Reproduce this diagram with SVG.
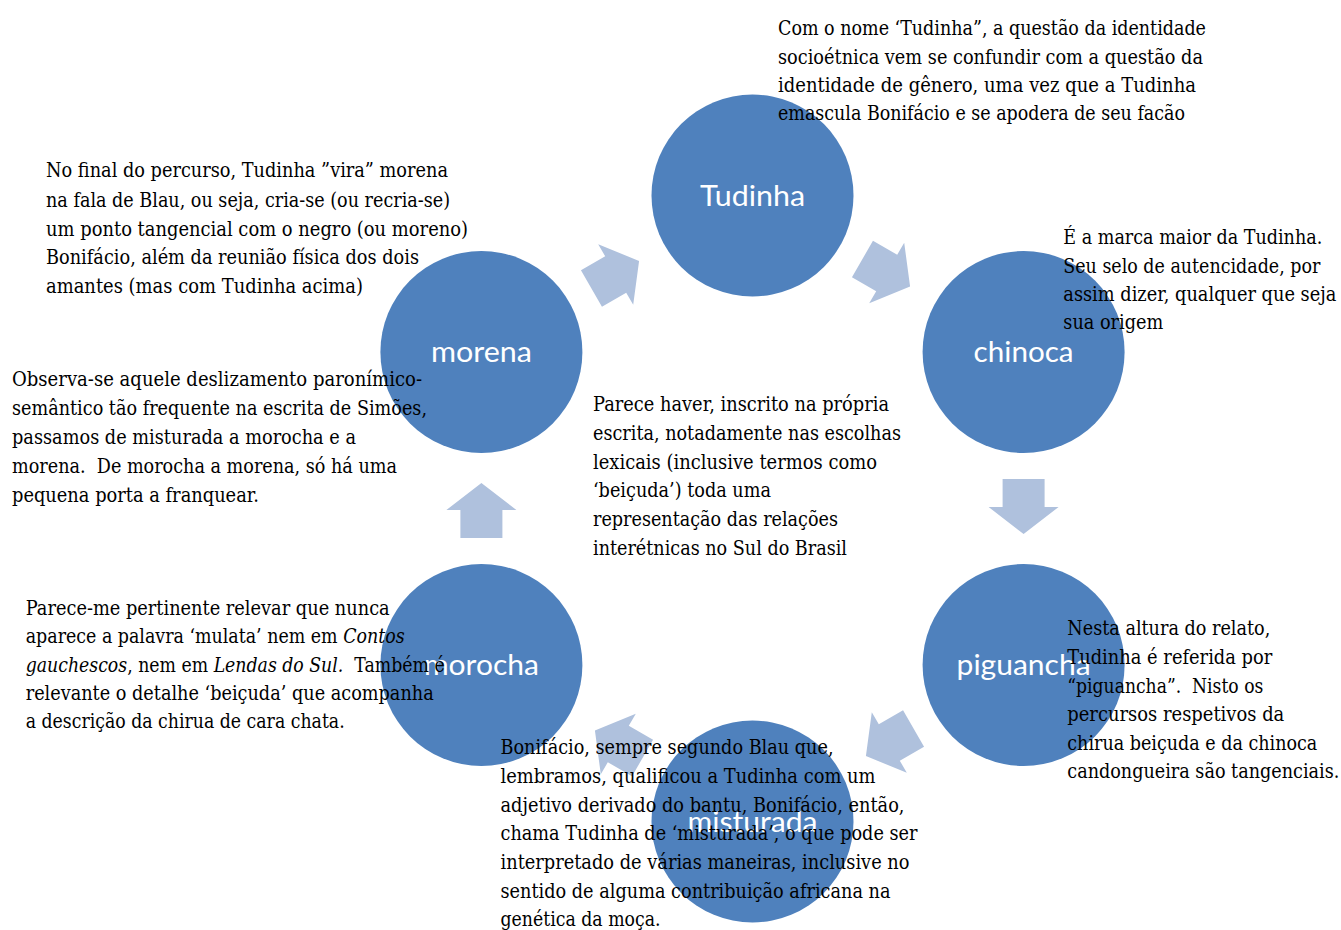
<svg xmlns="http://www.w3.org/2000/svg" width="1341" height="930" viewBox="0 0 1341 930">
  <style>
    .node { fill: #4f81bd; }
    .label { font-family: Lato, "Liberation Sans", sans-serif; font-size: 29px; fill: #ffffff; text-anchor: middle; }
    .arrow { fill: #afc1dd; }
    .note { font-family: "DejaVu Serif", "Liberation Serif", serif; font-size: 19.5px; fill: #000000; white-space: pre; }
    .it { font-style: italic; }
  </style>
  <defs>
    <!-- block arrow pointing along +x, origin at the midpoint between two circles -->
    <polygon id="blockArrow" points="-29.5,-21 -1.5,-21 -1.5,-35 25.5,0 -1.5,35 -1.5,21 -29.5,21"/>
  </defs>

  <rect width="1341" height="930" fill="#ffffff"/>

  <!-- cycle connectors -->
  <g id="connectors" class="arrow">
    <use href="#blockArrow" transform="translate(617,273.75) rotate(-30)"/>
    <use href="#blockArrow" transform="translate(888,273.75) rotate(30)"/>
    <use href="#blockArrow" transform="translate(1023.6,508.5) rotate(90)"/>
    <use href="#blockArrow" transform="translate(888,743.25) rotate(150)"/>
    <use href="#blockArrow" transform="translate(617,743.25) rotate(210)"/>
    <use href="#blockArrow" transform="translate(481.4,508.5) rotate(270)"/>
  </g>

  <!-- cycle nodes -->
  <g id="node-tudinha">
    <circle class="node" cx="752.5" cy="195.5" r="101"/>
    <text class="label" x="752.5" y="205.5" textLength="105" lengthAdjust="spacingAndGlyphs">Tudinha</text>
  </g>
  <g id="node-chinoca">
    <circle class="node" cx="1023.6" cy="352" r="101"/>
    <text class="label" x="1023.6" y="362" textLength="100" lengthAdjust="spacingAndGlyphs">chinoca</text>
  </g>
  <g id="node-piguancha">
    <circle class="node" cx="1023.6" cy="665" r="101"/>
    <text class="label" x="1023.6" y="675" textLength="134" lengthAdjust="spacingAndGlyphs">piguancha</text>
  </g>
  <g id="node-misturada">
    <circle class="node" cx="752.5" cy="821.5" r="101"/>
    <text class="label" x="752.5" y="831.5" textLength="130" lengthAdjust="spacingAndGlyphs">misturada</text>
  </g>
  <g id="node-morocha">
    <circle class="node" cx="481.4" cy="665" r="101"/>
    <text class="label" x="481.4" y="675" textLength="115" lengthAdjust="spacingAndGlyphs">morocha</text>
  </g>
  <g id="node-morena">
    <circle class="node" cx="481.4" cy="352" r="101"/>
    <text class="label" x="481.4" y="362" textLength="101" lengthAdjust="spacingAndGlyphs">morena</text>
  </g>

  <!-- commentary blocks -->
  <g id="notes" class="note" xml:space="preserve">
    <g id="note-tudinha">
      <text x="778" y="35" textLength="428" lengthAdjust="spacingAndGlyphs">Com o nome ‘Tudinha”, a questão da identidade</text>
      <text x="778" y="64" textLength="425" lengthAdjust="spacingAndGlyphs">socioétnica vem se confundir com a questão da</text>
      <text x="778" y="92" textLength="418" lengthAdjust="spacingAndGlyphs">identidade de gênero, uma vez que a Tudinha</text>
      <text x="778" y="120" textLength="407" lengthAdjust="spacingAndGlyphs">emascula Bonifácio e se apodera de seu facão</text>
    </g>
    <g id="note-morena-top">
      <text x="46" y="177.3" textLength="402" lengthAdjust="spacingAndGlyphs">No final do percurso, Tudinha ”vira” morena</text>
      <text x="46" y="206.5" textLength="404" lengthAdjust="spacingAndGlyphs">na fala de Blau, ou seja, cria-se (ou recria-se)</text>
      <text x="46" y="235.5" textLength="422" lengthAdjust="spacingAndGlyphs">um ponto tangencial com o negro (ou moreno)</text>
      <text x="46" y="264.3" textLength="373" lengthAdjust="spacingAndGlyphs">Bonifácio, além da reunião física dos dois</text>
      <text x="46" y="293.3" textLength="317" lengthAdjust="spacingAndGlyphs">amantes (mas com Tudinha acima)</text>
    </g>
    <g id="note-morena-bottom">
      <text x="12" y="386" textLength="410" lengthAdjust="spacingAndGlyphs">Observa-se aquele deslizamento paronímico-</text>
      <text x="12" y="415" textLength="415" lengthAdjust="spacingAndGlyphs">semântico tão frequente na escrita de Simões,</text>
      <text x="12" y="444" textLength="344" lengthAdjust="spacingAndGlyphs">passamos de misturada a morocha e a</text>
      <text x="12" y="472.7" textLength="385" lengthAdjust="spacingAndGlyphs">morena.&#160; De morocha a morena, só há uma</text>
      <text x="12" y="501.7" textLength="247" lengthAdjust="spacingAndGlyphs">pequena porta a franquear.</text>
    </g>
    <g id="note-morocha">
      <text x="25.7" y="615" textLength="364" lengthAdjust="spacingAndGlyphs">Parece-me pertinente relevar que nunca</text>
      <text x="25.7" y="643.3" textLength="379" lengthAdjust="spacingAndGlyphs">aparece a palavra ‘mulata’ nem em <tspan class="it">Contos</tspan></text>
      <text x="25.7" y="671.7" textLength="419" lengthAdjust="spacingAndGlyphs"><tspan class="it">gauchescos</tspan>, nem em <tspan class="it">Lendas do Sul.</tspan>&#160; Também é</text>
      <text x="25.7" y="700" textLength="408" lengthAdjust="spacingAndGlyphs">relevante o detalhe ‘beiçuda’ que acompanha</text>
      <text x="25.7" y="728.3" textLength="319" lengthAdjust="spacingAndGlyphs">a descrição da chirua de cara chata.</text>
    </g>
    <g id="note-center">
      <text x="593" y="411" textLength="296" lengthAdjust="spacingAndGlyphs">Parece haver, inscrito na própria</text>
      <text x="593" y="440" textLength="308" lengthAdjust="spacingAndGlyphs">escrita, notadamente nas escolhas</text>
      <text x="593" y="468.5" textLength="284" lengthAdjust="spacingAndGlyphs">lexicais (inclusive termos como</text>
      <text x="593" y="497" textLength="178" lengthAdjust="spacingAndGlyphs">‘beiçuda’) toda uma</text>
      <text x="593" y="525.7" textLength="245" lengthAdjust="spacingAndGlyphs">representação das relações</text>
      <text x="593" y="554.5" textLength="254" lengthAdjust="spacingAndGlyphs">interétnicas no Sul do Brasil</text>
    </g>
    <g id="note-misturada">
      <text x="500.5" y="754" textLength="333" lengthAdjust="spacingAndGlyphs">Bonifácio, sempre segundo Blau que,</text>
      <text x="500.5" y="783" textLength="375" lengthAdjust="spacingAndGlyphs">lembramos, qualificou a Tudinha com um</text>
      <text x="500.5" y="811.5" textLength="404" lengthAdjust="spacingAndGlyphs">adjetivo derivado do bantu, Bonifácio, então,</text>
      <text x="500.5" y="840" textLength="417" lengthAdjust="spacingAndGlyphs">chama Tudinha de ‘misturada’, o que pode ser</text>
      <text x="500.5" y="869" textLength="409" lengthAdjust="spacingAndGlyphs">interpretado de várias maneiras, inclusive no</text>
      <text x="500.5" y="897.5" textLength="390" lengthAdjust="spacingAndGlyphs">sentido de alguma contribuição africana na</text>
      <text x="500.5" y="926" textLength="160" lengthAdjust="spacingAndGlyphs">genética da moça.</text>
    </g>
    <g id="note-chinoca">
      <text x="1063.3" y="243.6" textLength="259" lengthAdjust="spacingAndGlyphs">É a marca maior da Tudinha.</text>
      <text x="1063.3" y="272.7" textLength="257" lengthAdjust="spacingAndGlyphs">Seu selo de autencidade, por</text>
      <text x="1063.3" y="300.7" textLength="273" lengthAdjust="spacingAndGlyphs">assim dizer, qualquer que seja</text>
      <text x="1063.3" y="329" textLength="100" lengthAdjust="spacingAndGlyphs">sua origem</text>
    </g>
    <g id="note-piguancha">
      <text x="1067.3" y="634.5" textLength="203" lengthAdjust="spacingAndGlyphs">Nesta altura do relato,</text>
      <text x="1067.3" y="663.6" textLength="205" lengthAdjust="spacingAndGlyphs">Tudinha é referida por</text>
      <text x="1067.3" y="692.7" textLength="196" lengthAdjust="spacingAndGlyphs">“piguancha”.&#160; Nisto os</text>
      <text x="1067.3" y="721" textLength="217" lengthAdjust="spacingAndGlyphs">percursos respetivos da</text>
      <text x="1067.3" y="749.8" textLength="250" lengthAdjust="spacingAndGlyphs">chirua beiçuda e da chinoca</text>
      <text x="1067.3" y="778.2" textLength="272" lengthAdjust="spacingAndGlyphs">candongueira são tangenciais.</text>
    </g>
  </g>
</svg>
